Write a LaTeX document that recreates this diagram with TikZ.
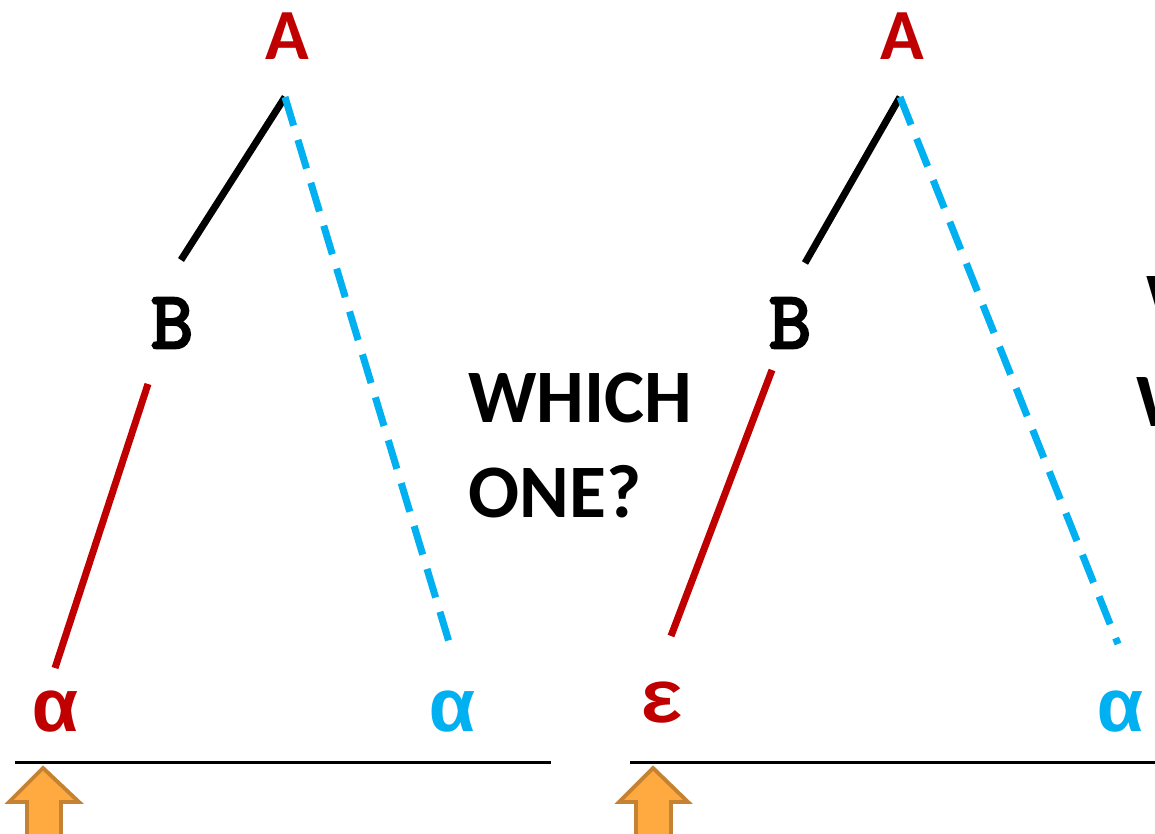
\documentclass[tikz,border=0pt]{standalone}
\usepackage{fontspec}
\setmainfont{Carlito}
\newfontfamily\treemono{Liberation Mono}
\newfontfamily\treeserif{Latin Modern Mono}[FakeBold=4]
\usepackage{xcolor}
\usepackage{tikz}

\definecolor{treered}{RGB}{192,0,0}
\definecolor{treecyan}{RGB}{0,176,240}
\definecolor{arrowfill}{RGB}{255,170,64}
\definecolor{arrowedge}{RGB}{196,130,50}

\tikzset{
  lbl/.style={inner sep=0pt, font=\fontsize{41}{49}\selectfont\bfseries},
  symlbl/.style={inner sep=0pt, font=\treemono\bfseries\fontsize{43}{50}\selectfont},
  catlbl/.style={inner sep=0pt, font=\treeserif\fontsize{46}{50}\selectfont},
  edge/.style={line width=4pt},
  hidden/.style={edge, treecyan, dash pattern=on 17pt off 8.5pt},
  uparrow/.style={fill=arrowfill, draw=arrowedge, line width=2.2pt, line join=miter},
}

\begin{document}
\begin{tikzpicture}[x=0.02cm, y=-0.02cm]
  \useasboundingbox (0,0) rectangle (1155,834);
  \clip (0,0) rectangle (1155,834);
  % left tree
  \node[lbl, treered] (lA) at (287,36) {A};
  \node[catlbl] (lB) at (172,323) {B};
  \node[symlbl, treered] (lx) at (55,712) {α};
  \node[symlbl, treecyan] (ly) at (452,712) {α};
  \coordinate (lAtop) at (285,97);
  \coordinate (lBtop) at (181,260);
  \coordinate (lBbot) at (148,384);
  \coordinate (lxtop) at (55,668);
  \coordinate (lytop) at (449,642);
  \draw[edge] (lAtop) -- (lBtop);
  \draw[edge, treered] (lBbot) -- (lxtop);
  \draw[hidden] (lAtop) -- (lytop);
  % question
  \node[lbl, anchor=north west, align=left, font=\fontsize{43}{54}\selectfont\bfseries]
    (ask) at (468,373) {WHICH\\ONE?};
  % right tree
  \node[lbl, treered] (rA) at (902,36) {A};
  \node[catlbl] (rB) at (790,323) {B};
  \node[symlbl, treered] (rx) at (662,703) {ε};
  \node[symlbl, treecyan] (ry) at (1120,712) {α};
  \coordinate (rAtop) at (900,97);
  \coordinate (rBtop) at (805,263);
  \coordinate (rBbot) at (772,370);
  \coordinate (rxtop) at (671,636);
  \coordinate (rytop) at (1118,644);
  \draw[edge] (rAtop) -- (rBtop);
  \draw[edge, treered] (rBbot) -- (rxtop);
  \draw[hidden] (rAtop) -- (rytop);
  % cut-off text at the right edge
  \node[lbl, anchor=north west, font=\fontsize{43}{54}\selectfont\bfseries] (cutA) at (1146,276) {W};
  \node[lbl, anchor=north west, font=\fontsize{43}{54}\selectfont\bfseries] (cutB) at (1136,377) {W};
  % baselines
  \coordinate (lL) at (15,762);
  \coordinate (lR) at (551,762);
  \coordinate (rL) at (630,762);
  \coordinate (rR) at (1160,762);
  \draw[line width=1.7pt] (lL) -- (lR);
  \draw[line width=1.7pt] (rL) -- (rR);
  % pointers
  \draw[uparrow] (43,768) -- (79,802) -- (61,802) -- (61,850) -- (27,850)
    -- (27,802) -- (9,802) -- cycle;
  \draw[uparrow] (653,768) -- (688,802) -- (671,802) -- (671,850) -- (636,850)
    -- (636,802) -- (619,802) -- cycle;
\end{tikzpicture}
\end{document}
